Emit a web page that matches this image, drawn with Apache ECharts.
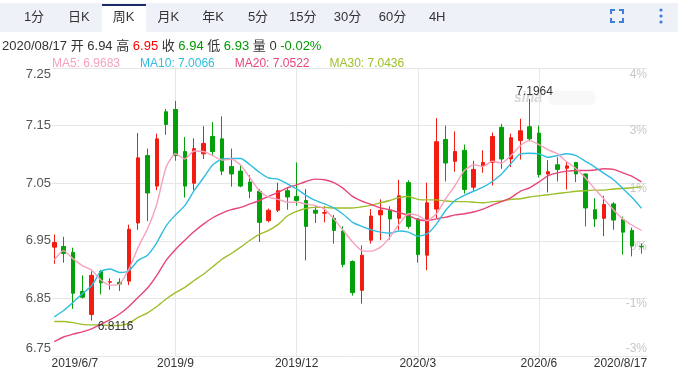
<!DOCTYPE html>
<html><head><meta charset="utf-8">
<script src="https://cdn.jsdelivr.net/npm/echarts@6/dist/echarts.min.js"></script>
<style>html,body{margin:0;padding:0;background:#fff;}#c{width:678px;height:370px;}</style>
</head><body><div id="c"></div>
<script>
// ---- data (weekly K, USD/CNH style) ----
const lastDate = '2020/08/17';
const tickIndex  = [0, 13, 26, 39, 52, 63];
const tickLabels = ['2019/6/7', '2019/9', '2019/12', '2020/3', '2020/6', '2020/8/17'];
const opens  = [6.939,6.940,6.930,6.862,6.822,6.897,6.878,6.878,6.880,6.981,7.098,7.045,7.174,7.178,7.105,7.050,7.101,7.131,7.127,7.079,7.071,7.052,7.036,6.985,7.003,7.037,7.027,7.020,7.003,6.998,6.989,6.967,6.914,6.864,6.951,6.995,7.003,6.989,7.051,6.988,6.925,7.005,7.126,7.088,7.107,7.043,7.080,7.086,7.147,7.092,7.124,7.148,7.137,7.066,7.082,7.076,7.086,7.066,7.004,6.989,7.014,6.987,6.968,6.9402];
const closes = [6.947,6.928,6.859,6.852,6.890,6.877,6.879,6.875,6.970,7.094,7.033,7.127,7.152,7.098,7.045,7.110,7.119,7.105,7.071,7.066,7.045,7.036,6.982,7.003,7.037,7.026,7.020,6.975,6.998,6.999,6.968,6.909,6.860,6.925,6.993,7.003,6.988,7.028,6.975,6.926,7.016,7.122,7.085,7.105,7.039,7.074,7.086,7.131,7.092,7.129,7.141,7.127,7.065,7.070,7.074,7.080,7.066,7.007,6.988,7.013,6.986,6.965,6.941,6.9398];
const lows   = [6.910,6.912,6.832,6.850,6.8116,6.857,6.865,6.863,6.873,6.969,6.984,7.038,7.134,7.089,7.025,7.038,7.092,7.099,7.064,7.044,7.043,7.024,6.948,6.982,7.000,7.004,7.011,6.916,6.981,6.982,6.945,6.904,6.855,6.841,6.945,6.951,6.952,6.969,6.971,6.912,6.899,6.989,7.053,7.070,7.032,7.037,7.068,7.046,7.075,7.078,7.091,7.124,7.060,7.034,7.053,7.039,7.052,6.975,6.974,6.958,6.969,6.926,6.923,6.9275];
const highs  = [6.961,6.957,6.938,6.890,6.897,6.899,6.885,6.885,6.978,7.137,7.110,7.136,7.179,7.193,7.130,7.128,7.149,7.156,7.166,7.110,7.082,7.064,7.040,7.006,7.051,7.042,7.086,7.040,7.011,7.010,6.995,6.975,6.916,6.942,7.005,7.022,7.010,7.056,7.055,6.989,7.051,7.163,7.150,7.140,7.117,7.089,7.107,7.138,7.153,7.136,7.162,7.1964,7.150,7.090,7.095,7.088,7.087,7.067,7.024,7.028,7.017,6.992,6.973,6.9455];
const ma5  = [6.917,6.933,6.919,6.907,6.899,6.882,6.873,6.875,6.901,6.939,6.971,7.014,7.078,7.101,7.092,7.106,7.105,7.098,7.090,7.092,7.081,7.059,7.037,7.026,7.022,7.017,7.017,7.014,7.011,7.005,6.988,6.968,6.948,6.933,6.932,6.939,6.956,6.979,6.997,6.994,6.985,6.997,7.023,7.046,7.072,7.082,7.079,7.088,7.085,7.098,7.115,7.124,7.117,7.108,7.101,7.087,7.075,7.059,7.040,7.022,7.004,6.988,6.977,6.9683];
const ma10 = [6.818,6.829,6.843,6.858,6.872,6.897,6.901,6.895,6.898,6.916,6.925,6.947,6.976,6.995,7.011,7.037,7.059,7.082,7.092,7.093,7.093,7.082,7.069,7.059,7.057,7.049,7.040,7.029,7.020,7.014,7.007,6.996,6.982,6.975,6.969,6.965,6.963,6.967,6.965,6.958,6.962,6.979,7.003,7.020,7.029,7.036,7.043,7.053,7.066,7.084,7.101,7.102,7.101,7.095,7.098,7.101,7.098,7.088,7.078,7.067,7.056,7.041,7.025,7.0066];
const ma20 = [6.775,6.783,6.788,6.792,6.797,6.805,6.813,6.823,6.836,6.852,6.868,6.890,6.916,6.935,6.951,6.966,6.979,6.990,6.998,7.004,7.008,7.014,7.020,7.027,7.034,7.042,7.047,7.053,7.057,7.056,7.051,7.041,7.027,7.019,7.013,7.007,7.004,6.999,6.994,6.987,6.985,6.988,6.991,6.995,6.997,7.000,7.005,7.012,7.018,7.025,7.036,7.042,7.052,7.063,7.068,7.071,7.072,7.072,7.073,7.075,7.074,7.068,7.062,7.0522];
const ma30 = [6.810,6.810,6.808,6.805,6.804,6.804,6.803,6.803,6.807,6.817,6.825,6.836,6.849,6.860,6.869,6.881,6.892,6.905,6.918,6.928,6.939,6.951,6.961,6.968,6.978,6.993,7.001,7.006,7.008,7.008,7.007,7.007,7.007,7.009,7.012,7.016,7.020,7.025,7.027,7.022,7.021,7.021,7.019,7.018,7.018,7.017,7.016,7.018,7.019,7.022,7.023,7.026,7.028,7.030,7.032,7.034,7.036,7.037,7.038,7.038,7.040,7.041,7.042,7.0436];
const leftTicks  = ['6.75','6.85','6.95','7.05','7.15','7.25'];
const rightTicks = ['-3%','-1%','0%','1%','3%','4%'];
const tabs = ['1分','日K','周K','月K','年K','5分','15分','30分','60分','4H'];

// ---- build ----
const FF = "'Liberation Sans', Arial, 'Noto Sans CJK SC', sans-serif";
const UP = '#f21c10', DOWN = '#03a00a';
const C5 = '#f7a1bf', C10 = '#2fbde0', C20 = '#e84579', C30 = '#9cbf2a';
const n = opens.length;
const kData = opens.map((o, i) => [i, o, closes[i], lows[i], highs[i]]);
const line = arr => arr.map((v, i) => [i, v]);
let iMax = 0, iMin = 0;
highs.forEach((h, i) => { if (h > highs[iMax]) iMax = i; });
lows.forEach((l, i) => { if (l < lows[iMin]) iMin = i; });
const last = n - 1;
const chg = (closes[last] - closes[last - 1]) / closes[last - 1] * 100;
const chgTxt = (chg >= 0 ? '+' : '') + chg.toFixed(2) + '%';
const col = v => v > opens[last] ? 'r' : (v < opens[last] ? 'g' : 'd');
const infoText = lastDate + ' 开 {d|' + opens[last].toFixed(2) + '} 高 {' + col(highs[last]) + '|' + highs[last].toFixed(2) +
  '} 收 {' + (chg < 0 ? 'g' : 'r') + '|' + closes[last].toFixed(2) + '} 低 {' + col(lows[last]) + '|' + lows[last].toFixed(2) +
  '} 量 {d|0} {' + (chg < 0 ? 'g' : 'r') + '|' + chgTxt + '}';
const maLast = {MA5: ma5[last], MA10: ma10[last], MA20: ma20[last], MA30: ma30[last]};

const graphics = [
  {type: 'rect', shape: {x: 0, y: 3, width: 678, height: 29}, style: {fill: '#eef2f8'}, silent: true, z: 0},
  {type: 'rect', shape: {x: 102, y: 4, width: 44, height: 28}, style: {fill: '#ffffff'}, z: 1},
  {type: 'rect', shape: {x: 102, y: 4, width: 44, height: 2}, style: {fill: '#1b2b68'}, z: 2},
];
const tabX0 = 34, tabDx = 44.8;
tabs.forEach((t, i) => graphics.push({type: 'text', z: 3, style: {text: t, x: tabX0 + i * tabDx, y: 17,
  fontSize: 13, fontFamily: FF, fill: '#333', textAlign: 'center', textVerticalAlign: 'middle'}}));
const ic = '#3b7dd8';
[[[611,14],[611,10],[615,10]], [[619,10],[623,10],[623,14]], [[611,18],[611,22],[615,22]], [[619,22],[623,22],[623,18]]]
  .forEach(p => graphics.push({type: 'polyline', z: 3, shape: {points: p}, style: {stroke: ic, lineWidth: 2, fill: null}}));
[10, 16, 22].forEach(y => graphics.push({type: 'circle', z: 3, shape: {cx: 661, cy: y, r: 1.6}, style: {fill: ic}}));
graphics.push({type: 'text', z: 3, style: {text: infoText, x: 2, y: 46, fontSize: 13, fontFamily: FF, fill: '#333',
  textVerticalAlign: 'middle', rich: {
    d: {fill: '#333', fontSize: 13, fontFamily: FF},
    r: {fill: '#f00', fontSize: 13, fontFamily: FF},
    g: {fill: '#009900', fontSize: 13, fontFamily: FF}}}});
// faint sina watermark
graphics.push({type: 'text', z: 0, style: {text: 'sina', x: 514, y: 98, fontSize: 14, fontStyle: 'italic', fontWeight: 'bold',
  fontFamily: FF, fill: '#d6d6d6', textVerticalAlign: 'middle'}});
graphics.push({type: 'rect', z: 0, shape: {x: 548, y: 91, width: 48, height: 14, r: 7}, style: {fill: '#f8f8f8'}});

const chart = echarts.init(document.getElementById('c'), null, {renderer: 'canvas'});
chart.setOption({
  animation: false,
  backgroundColor: '#fff',
  textStyle: {fontFamily: FF},
  graphic: graphics,
  legend: {
    left: 42, top: 53, icon: 'none', itemWidth: 0, itemHeight: 0, itemGap: 15, selectedMode: false,
    data: [{name: 'MA5', textStyle: {color: C5}}, {name: 'MA10', textStyle: {color: C10}},
           {name: 'MA20', textStyle: {color: C20}}, {name: 'MA30', textStyle: {color: C30}}],
    formatter: name => name + ': ' + maLast[name].toFixed(4),
    textStyle: {fontSize: 12, fontFamily: FF}
  },
  grid: {left: 52, right: 31, top: 68, bottom: 14},
  xAxis: {
    type: 'value', min: -0.25, max: 63.6,
    axisLine: {show: true, lineStyle: {color: '#e6e6e6'}},
    axisTick: {show: false, customValues: tickIndex.slice(1, -1)},
    splitLine: {show: true, lineStyle: {color: '#e6e6e6'}},
    axisLabel: {
      customValues: tickIndex, margin: 2, color: '#333', fontSize: 12, fontFamily: FF,
      formatter: v => {
        const k = tickIndex.indexOf(Math.round(v));
        const t = tickLabels[k];
        if (k === 0) return '{f|' + t + '}';
        if (k === tickIndex.length - 1) return '{l|' + t + '}';
        return t;
      },
      rich: {f: {padding: [0, 0, 0, 41], fontSize: 12, color: '#333'}, l: {padding: [0, 42, 0, 0], fontSize: 12, color: '#333'}}
    }
  },
  yAxis: [{
    type: 'value', min: 6.75, max: 7.25, interval: 0.1, scale: true,
    axisLine: {show: false}, axisTick: {show: false},
    splitLine: {show: true, lineStyle: {color: '#e6e6e6'}},
    axisLabel: {
      margin: 1, color: '#555', fontSize: 13, fontFamily: FF,
      formatter: v => {
        const k = Math.round((v - 6.75) / 0.1);
        const t = leftTicks[k];
        if (k === 0) return '{b|' + t + '}';
        if (k === leftTicks.length - 1) return '{t|' + t + '}';
        return t;
      },
      rich: {t: {padding: [13, 0, 0, 0], fontSize: 13, color: '#555'}, b: {padding: [0, 0, 15, 0], fontSize: 13, color: '#555'}}
    }
  }, {
    type: 'value', position: 'right', min: 6.75, max: 7.25, interval: 0.1, scale: true,
    axisLine: {show: false}, axisTick: {show: false}, splitLine: {show: false},
    axisLabel: {
      inside: true, margin: 0, color: '#c8c8c8', fontSize: 12, fontFamily: FF,
      formatter: v => {
        const k = Math.round((v - 6.75) / 0.1);
        const t = rightTicks[k];
        if (k === 0) return '{b|' + t + '}';
        if (k === rightTicks.length - 1) return '{t|' + t + '}';
        return '{m|' + t + '}';
      },
      rich: {t: {padding: [14, 0, 0, 0], fontSize: 12, color: '#c8c8c8'}, m: {padding: [11, 0, 0, 0], fontSize: 12, color: '#c8c8c8'},
             b: {padding: [0, 0, 15, 0], fontSize: 12, color: '#c8c8c8'}}
    }
  }],
  series: [{
    type: 'candlestick', name: 'K', data: kData, barWidth: 4,
    encode: {x: 0, y: [1, 2, 3, 4]},
    itemStyle: {color: UP, color0: DOWN, borderColor: UP, borderColor0: DOWN, borderWidth: 1},
    markPoint: {
      symbol: 'circle', symbolSize: 0,
      label: {show: true, position: 'inside', color: '#333', fontSize: 12, fontFamily: FF,
              formatter: p => p.value.toFixed(4)},
      data: [{coord: [iMax, highs[iMax]], value: highs[iMax], label: {offset: [5, -7]}},
             {coord: [iMin, lows[iMin]], value: lows[iMin], label: {offset: [24, 6]}}]
    }
  },
  {type: 'line', name: 'MA30', data: line(ma30), showSymbol: false, smooth: 0.2, lineStyle: {width: 1.4, color: C30}, itemStyle: {color: C30}},
  {type: 'line', name: 'MA20', data: line(ma20), showSymbol: false, smooth: 0.2, lineStyle: {width: 1.4, color: C20}, itemStyle: {color: C20}},
  {type: 'line', name: 'MA10', data: line(ma10), showSymbol: false, smooth: 0.2, lineStyle: {width: 1.4, color: C10}, itemStyle: {color: C10}},
  {type: 'line', name: 'MA5', data: line(ma5), showSymbol: false, smooth: 0.2, lineStyle: {width: 1.4, color: C5}, itemStyle: {color: C5}}]
});
</script></body></html>
